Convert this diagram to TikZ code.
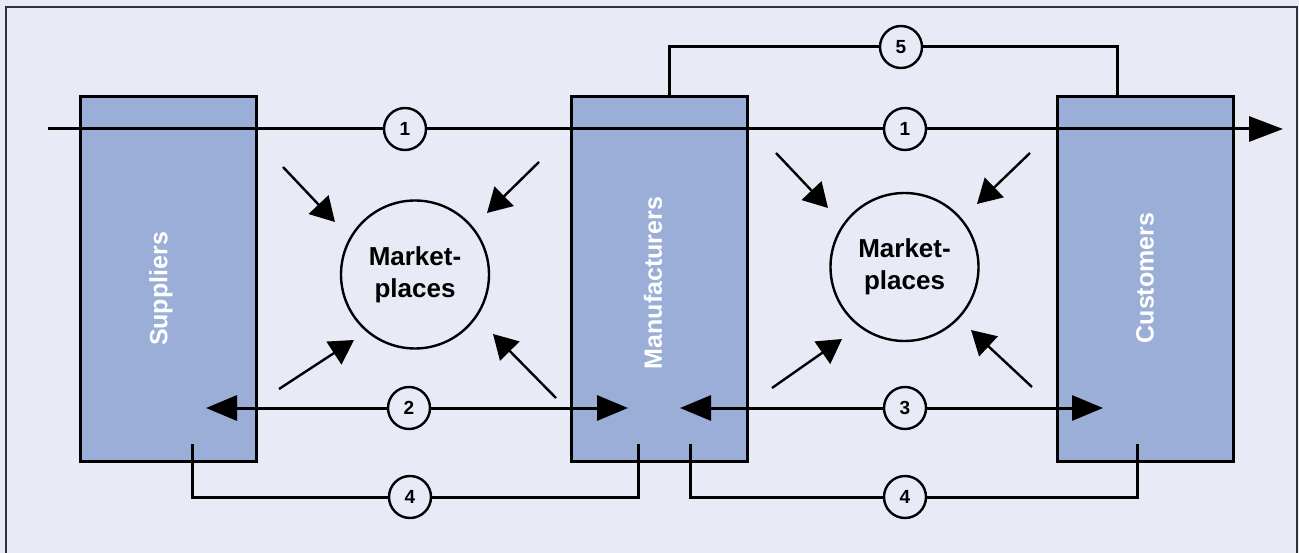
\documentclass[tikz,border=0pt]{standalone}
\usepackage{fontspec}
\setmainfont{Liberation Sans}
\usetikzlibrary{arrows.meta}
\definecolor{bg}{RGB}{232,234,246}
\definecolor{boxblue}{RGB}{154,174,216}
\definecolor{framegray}{RGB}{50,50,50}
\begin{document}
\begin{tikzpicture}[x=1pt,y=-1pt,
  party/.style={draw=black, line width=3pt, fill=boxblue, minimum width=176pt, minimum height=364pt, inner sep=0pt},
  plabel/.style={text=white, font=\fontsize{25}{30}\selectfont\bfseries, rotate=90, inner sep=0pt},
  market/.style={circle, draw=black, line width=2.4pt, fill=bg, minimum size=148pt, inner sep=0pt, align=center, font=\fontsize{26}{32}\selectfont\bfseries},
  num/.style={circle, draw=black, line width=2.4pt, fill=bg, minimum size=42pt, inner sep=0pt, font=\fontsize{19}{19}\selectfont\bfseries},
  flow/.style={draw=black, line width=3pt},
  bigtip/.style={-{Triangle[length=34pt,width=25pt]}},
  endtip/.style={-{Triangle[length=31pt,width=25pt]}},
  feed/.style={draw=black, line width=2.4pt, -{Triangle[length=24pt,width=27pt]}},
  framestyle/.style={draw=framegray, line width=1.1pt}
]
\useasboundingbox (0,0) rectangle (1299,553);
\fill[bg] (0,0) rectangle (1299,553);
\draw[framestyle] (6,553) -- (6,7) -- (1297,7) -- (1297,553);

% parties
\node[party] (sup) at (168,279) {};
\node[party] (man) at (659,279) {};
\node[party] (cus) at (1145.5,279) {};
\node[plabel] (supl) at (161,289) {Suppliers};
\node[plabel] (manl) at (653,283) {Manufacturers};
\node[plabel] (cusl) at (1145,278) {Customers};

% marketplaces
\node[market] (m1) at (415,274.5) {Market-\\places};
\node[market] (m2) at (904.5,267) {Market-\\places};

% number circles
\node[num] (n1a) at (405,129) {1};
\node[num] (n1b) at (905,129) {1};
\node[num] (n5) at (901,47) {5};
\node[num] (n2) at (409,408) {2};
\node[num] (n3) at (905,408) {3};
\node[num] (n4a) at (410,497) {4};
\node[num] (n4b) at (905,497) {4};

% coordinates
\coordinate (s1) at (48,129);
\coordinate (e1) at (1283,129);
\coordinate (t2l) at (206,408);
\coordinate (t2r) at (628,408);
\coordinate (t3l) at (680,408);
\coordinate (t3r) at (1103,408);
\coordinate (f4a) at (192,444);
\coordinate (f4b) at (638,444);
\coordinate (f4c) at (690,444);
\coordinate (f4d) at (1137,444);
\coordinate (f5a) at (669,97);
\coordinate (f5b) at (1117,97);

% flows
\draw[flow, bigtip] (s1) -- (n1a) -- (n1b) -- (e1);
\draw[flow, endtip] (n2) -- (t2l);
\draw[flow, endtip] (n2) -- (t2r);
\draw[flow, endtip] (n3) -- (t3l);
\draw[flow, endtip] (n3) -- (t3r);
\draw[flow] (f4a) -- (f4a |- n4a) -- (n4a) -- (n4a -| f4b) -- (f4b);
\draw[flow] (f4c) -- (f4c |- n4b) -- (n4b) -- (n4b -| f4d) -- (f4d);
\draw[flow] (f5a) -- (f5a |- n5) -- (n5) -- (n5 -| f5b) -- (f5b);

% feeds into left marketplace
\coordinate (a1s) at (283,167); \coordinate (a1t) at (335,222);
\coordinate (a2s) at (539,162); \coordinate (a2t) at (487,213);
\coordinate (a3s) at (279,389); \coordinate (a3t) at (354,340);
\coordinate (a4s) at (556,398); \coordinate (a4t) at (493,334);
\draw[feed] (a1s) -- (a1t);
\draw[feed] (a2s) -- (a2t);
\draw[feed] (a3s) -- (a3t);
\draw[feed] (a4s) -- (a4t);

% feeds into right marketplace
\coordinate (b1s) at (776,153); \coordinate (b1t) at (828,208);
\coordinate (b2s) at (1030,153); \coordinate (b2t) at (977,204);
\coordinate (b3s) at (772,388); \coordinate (b3t) at (842,339);
\coordinate (b4s) at (1032,387); \coordinate (b4t) at (971,330);
\draw[feed] (b1s) -- (b1t);
\draw[feed] (b2s) -- (b2t);
\draw[feed] (b3s) -- (b3t);
\draw[feed] (b4s) -- (b4t);
\end{tikzpicture}
\end{document}
